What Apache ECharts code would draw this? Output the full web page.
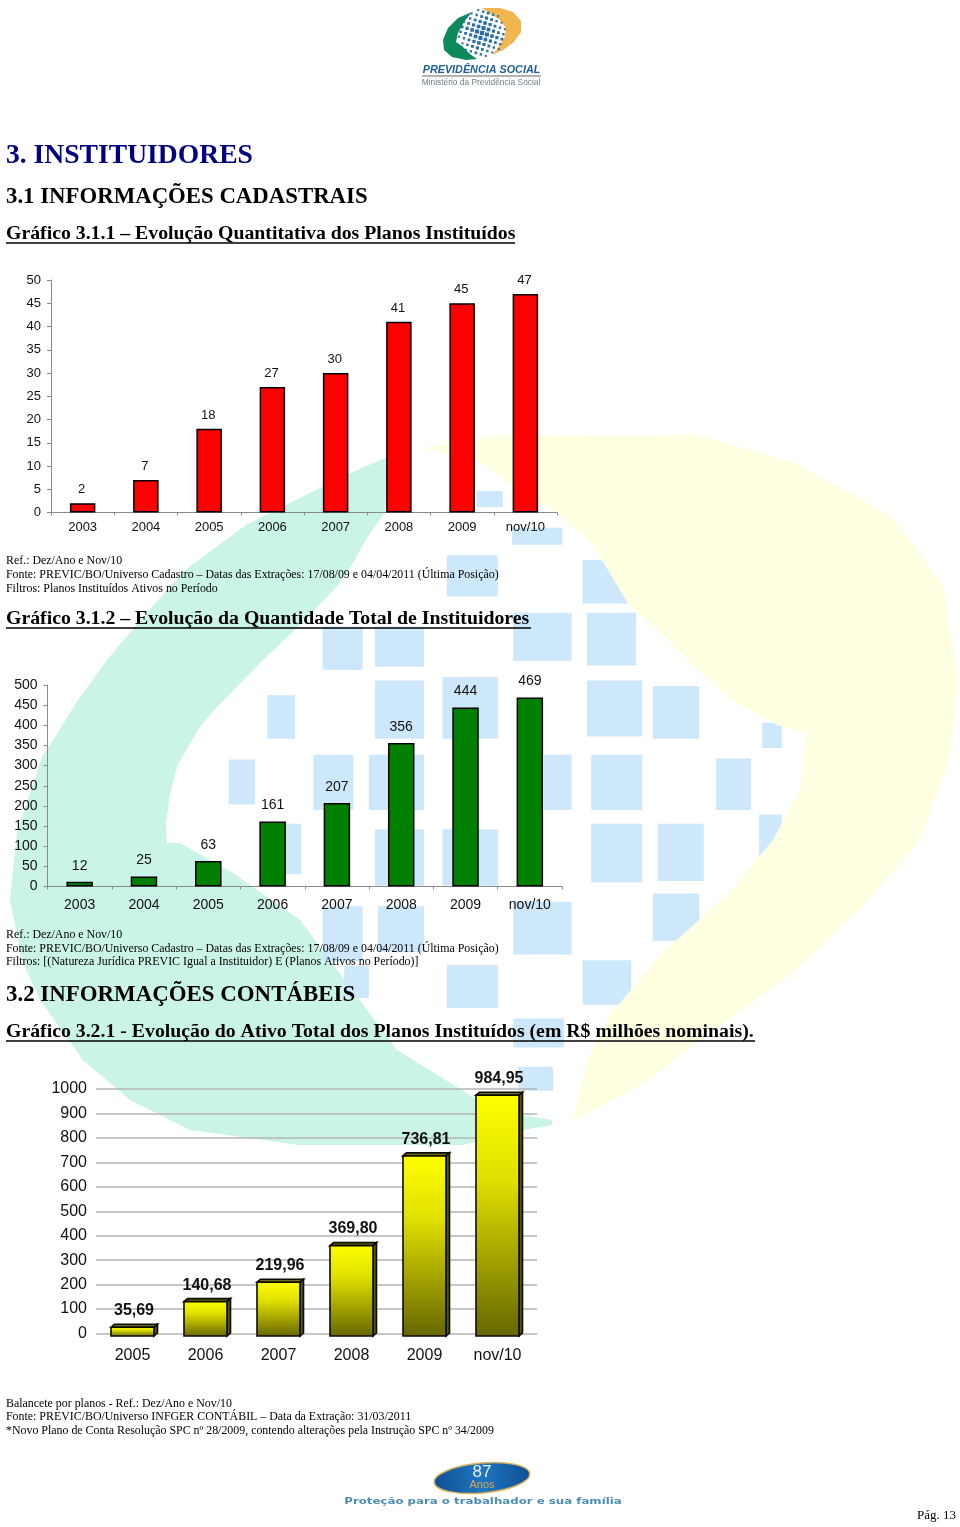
<!DOCTYPE html>
<html><head><meta charset="utf-8">
<style>html,body{margin:0;padding:0;background:#fff}#c{width:960px;height:1527px}</style>
<script src="https://cdn.jsdelivr.net/npm/echarts@6/dist/echarts.min.js"></script>
</head><body><div id="c"></div>
<script>
// ---- data ----
const planYears = ['2003','2004','2005','2006','2007','2008','2009','nov/10'];
const planValues = [2,7,18,27,30,41,45,47];
const sponsorYears = ['2003','2004','2005','2006','2007','2008','2009','nov/10'];
const sponsorValues = [12,25,63,161,207,356,444,469];
const assetYears = ['2005','2006','2007','2008','2009','nov/10'];
const assetValues = [35.69,140.68,219.96,369.80,736.81,984.95];

// ---- decoration: watermark outlines (page pixels) ----
const mintOutline = [[385,458],[350,473],[300,498],[246,525],[184,571],[145,615],[107,660],[78,700],[50,745],[42,757],[17,833],[10,900],[22,960],[40,1000],[83,1060],[130,1100],[190,1130],[300,1145],[463,1145],[523,1130],[552,1125],[552,1120],[490,1110],[473,1097],[397,1050],[300,920],[233,873],[180,843],[167,843],[166,824],[170,793],[178,764],[200,727],[215,709],[263,660],[300,625],[340,583],[350,568],[367,538],[385,512],[388,458]];
const yellowOutline = [[422,448],[497,435],[660,436],[693,434],[793,462],[893,517],[943,586],[958,678],[950,757],[920,840],[860,909],[793,973],[710,1033],[643,1084],[573,1121],[587,1061],[610,1015],[660,955],[727,895],[773,840],[800,789],[807,734],[777,725],[733,701],[693,665],[660,632],[627,602],[593,545],[557,513],[517,488],[480,462]];
const blueBlocksCrop = [[775,155,818,190],[833,235,915,272],[727,295,810,385],[948,305,1035,400],[525,450,590,545],[610,450,690,538],[835,420,930,525],[955,420,1035,535],[435,600,480,695],[610,568,690,695],[720,560,810,695],[955,568,1045,690],[1062,580,1138,695],[1240,660,1272,715],[372,740,415,838],[510,730,575,850],[600,730,690,850],[885,730,930,850],[962,730,1045,850],[1165,738,1222,850],[465,880,490,990],[610,892,690,1015],[720,892,810,1015],[962,880,1045,1008],[1070,880,1145,1005],[1235,860,1272,955],[525,1060,590,1180],[615,1060,690,1160],[835,1050,930,1165],[1062,1032,1138,1135],[560,1190,600,1260],[727,1188,810,1282],[948,1178,1027,1275],[835,1305,918,1368],[843,1410,900,1462]];

const SERIF = '"Liberation Serif"', SANS = '"Liberation Sans"';
const deco = [];
deco.push({type:'polygon',z:-10,shape:{points:mintOutline},style:{fill:'#c9f4e6'}});
blueBlocksCrop.forEach(b=>{
  const x=b[0]/1.627,y=420+b[1]/2.18,w=(b[2]-b[0])/1.627,h=(b[3]-b[1])/2.18;
  deco.push({type:'rect',z:-9,shape:{x,y,width:w,height:h},style:{fill:'#cde8fb'}});
});
deco.push({type:'polygon',z:-8,shape:{points:yellowOutline},style:{fill:'#ffffe2'}});

function txt(text,x,y,size,opt){opt=opt||{};
  deco.push({type:'text',z:5,x,y,scaleX:opt.scaleX||1,style:{text,fontFamily:opt.family||SERIF,fontSize:size,fontWeight:opt.weight||'normal',fontStyle:opt.style||'normal',fill:opt.color||'#000',align:opt.align||'left',verticalAlign:'middle'}});
}
function rule(x1,x2,y,w){deco.push({type:'line',z:5,shape:{x1,y1:y,x2,y2:y},style:{stroke:'#000',lineWidth:w||1.5}});}

txt('3. INSTITUIDORES',6,156,27.6,{weight:'bold',color:'#000080'});
txt('3.1 INFORMAÇÕES CADASTRAIS',6,197,22.8,{weight:'bold'});
txt('Gráfico 3.1.1 – Evolução Quantitativa dos Planos Instituídos',6,234,19.8,{weight:'bold'}); rule(6,515,243);
txt('Ref.: Dez/Ano e Nov/10',6,561,11.9);
txt('Fonte: PREVIC/BO/Universo Cadastro – Datas das Extrações: 17/08/09 e 04/04/2011 (Última Posição)',6,575,11.9);
txt('Filtros: Planos Instituídos Ativos no Período',6,589,11.9);
txt('Gráfico 3.1.2 – Evolução da Quantidade Total de Instituidores',6,619,19.8,{weight:'bold'}); rule(6,531,628);
txt('Ref.: Dez/Ano e Nov/10',6,934.5,11.9);
txt('Fonte: PREVIC/BO/Universo Cadastro – Datas das Extrações: 17/08/09 e 04/04/2011 (Última Posição)',6,948.5,11.9);
txt('Filtros: [(Natureza Jurídica PREVIC Igual a Instituidor) E (Planos Ativos no Período)]',6,962,11.9);
txt('3.2 INFORMAÇÕES CONTÁBEIS',6,995,22.9,{weight:'bold'});
txt('Gráfico 3.2.1 - Evolução do Ativo Total dos Planos Instituídos (em R$ milhões nominais).',6,1032,19.8,{weight:'bold'}); rule(6,755,1041);
txt('Balancete por planos - Ref.: Dez/Ano e Nov/10',6,1404,11.9);
txt('Fonte: PREVIC/BO/Universo INFGER CONTÁBIL – Data da Extração: 31/03/2011',6,1417,11.9);
txt('*Novo Plano de Conta Resolução SPC nº 28/2009, contendo alterações pela Instrução SPC nº 34/2009',6,1431,11.9);
txt('Pág. 13',917,1516,13);

// top logo
deco.push({type:'polygon',z:5,shape:{points:[[472,12],[458,18],[448,28],[443,40],[444,50],[452,57],[466,60],[477,59],[470,54],[462,46],[456,42],[458,33],[464,22]]},style:{fill:'#0c8a5c'}});
deco.push({type:'polygon',z:5,shape:{points:[[482,8],[500,8],[513,12],[521,21],[521,32],[514,42],[503,50],[492,55],[501,44],[505,36],[506,28],[500,20]]},style:{fill:'#f2b64e'}});
for(let i=-4;i<=4;i++)for(let j=-4;j<=4;j++){
  if(Math.abs(i)+Math.abs(j)>6)continue;
  const a=0.3,s=5.2,cx=482+(i*Math.cos(a)-j*Math.sin(a))*s,cy=33+(i*Math.sin(a)+j*Math.cos(a))*s,r=Math.max(1.8,4.4-0.4*(Math.abs(i)+Math.abs(j)));
  deco.push({type:'rect',z:5,shape:{x:cx-r/2,y:cy-r/2,width:r,height:r},style:{fill:'#2a6eaa'}});
}
txt('PREVIDÊNCIA SOCIAL',481.5,70,10.8,{family:SANS,weight:'bold',style:'italic',color:'#1b5f9c',align:'center'});
rule(422,541,76,0.6);
txt('Ministério da Previdência Social',481,82.5,8.4,{family:SANS,color:'#6f7f88',align:'center'});

// bottom logo
deco.push({type:'ellipse',z:5,x:482,y:1478,rotation:0.09,shape:{cx:0,cy:0,rx:48,ry:15},style:{fill:new echarts.graphic.LinearGradient(0,0,1,0,[{offset:0,color:'#0f4f94'},{offset:0.5,color:'#1e76c0'},{offset:1,color:'#0f4f94'}]),stroke:'#d9b45a',lineWidth:1.5}});
txt('87',482,1472,17,{family:SANS,color:'#e6eef6',align:'center'});
txt('Anos',482,1485,11,{family:SANS,color:'#d9a84f',align:'center'});
txt('Proteção para o trabalhador e sua família',483,1502,8.8,{family:'"DejaVu Sans"',weight:'bold',color:'#4c8db5',align:'center',scaleX:1.34});

// ---- chart ----
const axisGrey='#8a8a8a';
function plainBarAxis(gridIndex,cats,size,margin){return {type:'category',gridIndex,data:cats,
  axisLine:{lineStyle:{color:axisGrey,width:1}},axisTick:{show:true,alignWithLabel:false,length:3,lineStyle:{color:axisGrey}},
  axisLabel:{color:'#111',fontFamily:SANS,fontSize:size,margin,interval:0},splitLine:{show:false}};}
function plainValAxis(gridIndex,max,interval,size){return {type:'value',gridIndex,min:0,max,interval,
  axisLine:{show:true,lineStyle:{color:axisGrey,width:1}},axisTick:{show:true,length:4,lineStyle:{color:axisGrey}},
  axisLabel:{color:'#111',fontFamily:SANS,fontSize:size,margin:10,formatter:v=>String(v)},splitLine:{show:false}};}

function render3dBar(params,api){
  const i=api.value(0),val=api.value(1);
  const top=api.coord([i,val]),base=api.coord([i,0]);
  const half=21.5,dx=3.5,dy=3,sink=2.5;
  const L=top[0]-half,R=top[0]+half,T=top[1]+sink,B=base[1]+sink;
  const line={stroke:'#0c0c00',lineWidth:1.6};
  return {type:'group',children:[
    {type:'polygon',shape:{points:[[L,T],[L+dx,T-dy],[R+dx,T-dy],[R,T]]},style:Object.assign({fill:'#6f6f1e'},line)},
    {type:'polygon',shape:{points:[[R,T],[R+dx,T-dy],[R+dx,B-dy],[R,B]]},style:Object.assign({fill:'#55550f'},line)},
    {type:'rect',shape:{x:L,y:T,width:R-L,height:B-T},style:Object.assign({fill:new echarts.graphic.LinearGradient(0,0,0,1,[{offset:0,color:'#ffff00'},{offset:0.35,color:'#e0e000'},{offset:1,color:'#666600'}])},line)},
    {type:'text',style:{text:val.toFixed(2).replace('.',','),x:top[0]+1.5,y:top[1]-14,align:'center',verticalAlign:'middle',fontFamily:SANS,fontSize:16,fontWeight:'bold',fill:'#111'}}
  ]};
}

const option={
  backgroundColor:'#fff',animation:false,
  graphic:{elements:deco},
  grid:[
    {left:51,top:280,width:506,height:232.5},
    {left:47.5,top:685,width:514.5,height:201.5},
    {left:96,top:1089,width:438,height:244.5},
    {left:96,top:1089,width:441,height:244.5}
  ],
  xAxis:[
    plainBarAxis(0,planYears,13,8),
    plainBarAxis(1,sponsorYears,14,12),
    {type:'category',gridIndex:2,data:assetYears,axisLine:{show:false},axisTick:{show:false},axisLabel:{color:'#111',fontFamily:SANS,fontSize:16,margin:14,interval:0}},
    {type:'category',gridIndex:3,data:assetYears,show:false}
  ],
  yAxis:[
    plainValAxis(0,50,5,13),
    plainValAxis(1,500,50,14),
    {type:'value',gridIndex:2,min:0,max:1000,interval:100,axisLine:{show:false},axisTick:{show:false},splitLine:{show:false},axisLabel:{color:'#111',fontFamily:SANS,fontSize:16,margin:9,formatter:v=>String(v)}},
    {type:'value',gridIndex:3,min:0,max:1000,interval:100,axisLine:{show:false},axisTick:{show:false},axisLabel:{show:false},splitLine:{show:true,lineStyle:{color:'#b4b4b4',width:1.5}}}
  ],
  series:[
    {type:'bar',xAxisIndex:0,yAxisIndex:0,data:planValues,barWidth:25.5,itemStyle:{color:'#ff0000',borderColor:'#000',borderWidth:1.5},
      label:{show:true,position:'top',distance:7,offset:[-1,0],color:'#111',fontFamily:SANS,fontSize:13}},
    {type:'bar',xAxisIndex:1,yAxisIndex:1,data:sponsorValues,barWidth:26.5,itemStyle:{color:'#008000',borderColor:'#000',borderWidth:1.5},
      label:{show:true,position:'top',distance:9,color:'#111',fontFamily:SANS,fontSize:14}},
    {type:'custom',xAxisIndex:2,yAxisIndex:2,data:assetValues.map((v,i)=>[i,v]),encode:{x:0,y:1},renderItem:render3dBar,clip:false,z:3}
  ]
};
const chart=echarts.init(document.getElementById('c'),null,{renderer:'canvas',width:960,height:1527});
chart.setOption(option);
</script></body></html>
